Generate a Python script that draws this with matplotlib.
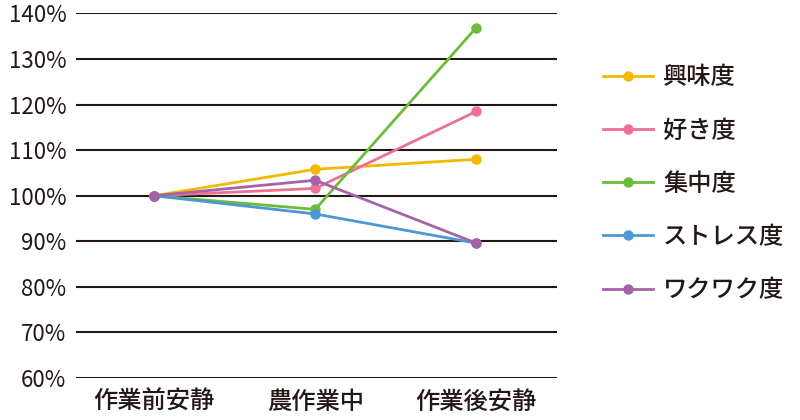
import matplotlib
matplotlib.use("Agg")
import matplotlib.pyplot as plt
from matplotlib.ticker import FuncFormatter

plt.rcParams['font.family'] = ['Noto Sans CJK JP', 'DejaVu Sans']

categories = ["作業前安静", "農作業中", "作業後安静"]
series_names = ["興味度", "好き度", "集中度", "ストレス度", "ワクワク度"]
interest = [100, 105.8, 108.0]
liking = [100, 101.6, 118.5]
focus = [100, 97.0, 136.9]
stress = [100, 96.0, 89.6]
excitement = [100, 103.4, 89.6]
colors = ["#F5B800", "#EE7092", "#6DBB3A", "#4A98D4", "#A463A8"]

fig = plt.figure(figsize=(8, 4.2), dpi=100)
ax = fig.add_axes([0.095, 0.1, 0.601, 0.868])

x = list(range(len(categories)))
for name, vals, c in zip(series_names, [interest, liking, focus, stress, excitement], colors):
    ax.plot(x, vals, color=c, marker='o', markersize=6.5, linewidth=2, label=name, zorder=3)

ax.set_ylim(60, 140)
ax.set_yticks(range(60, 141, 10))
ax.yaxis.set_major_formatter(FuncFormatter(lambda v, p: f"{int(v)}%"))
ax.set_xlim(-0.485, 2.5)
ax.set_xticks(x)
ax.set_xticklabels(categories, fontsize=17.5, color="#231815", fontweight='medium')
ax.grid(axis='y', color="#231815", linewidth=1.5, zorder=1)
ax.tick_params(axis='y', length=0, pad=7, labelsize=16, labelcolor="#231815")
ax.tick_params(axis='x', length=0, pad=8)
for s in ax.spines.values():
    s.set_visible(False)
ax.set_axisbelow(True)

leg = fig.legend(loc='upper left', bbox_to_anchor=(0.754, 0.847), frameon=False,
                 prop={'size': 17.5, 'weight': 'medium'}, handlelength=2.05,
                 labelspacing=1.12, handletextpad=0.42, borderpad=0,
                 borderaxespad=0, labelcolor="#231815")

fig.savefig("out.png", dpi=100)
